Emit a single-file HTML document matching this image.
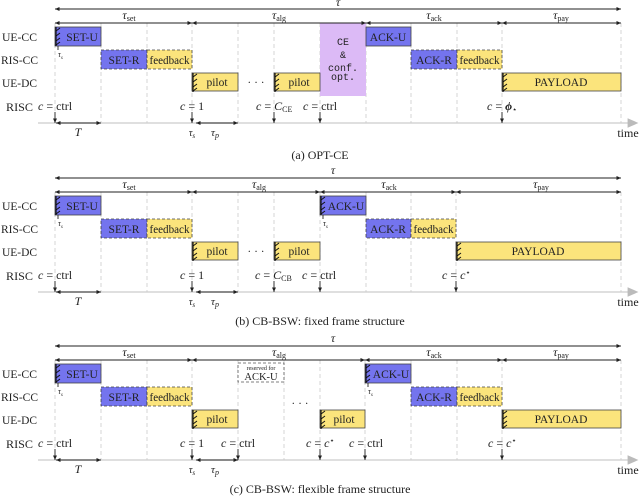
<!DOCTYPE html>
<html><head><meta charset="utf-8"><style>
html,body{margin:0;padding:0;background:#fff;}
svg{display:block;font-family:"Liberation Serif",serif;}
.g{stroke:#ccc;stroke-width:0.8;stroke-dasharray:4,3;}
.ar{stroke:#222;stroke-width:0.9;fill:none;}
.bl{fill:#7474ee;stroke:#444;stroke-width:0.8;}
.ye{fill:#fbe47c;stroke:#444;stroke-width:0.8;}
.d{stroke-dasharray:3,2;}
.t{font-size:12px;fill:#222;}
.s{font-size:11.5px;fill:#222;text-anchor:middle;}
.c{font-size:12px;fill:#222;text-anchor:middle;}
.m{font-family:"Liberation Mono",monospace;font-size:10px;fill:#222;text-anchor:middle;}
.h{stroke:#111;stroke-width:1;fill:none;}
</style></head><body>
<svg width="640" height="501" viewBox="0 0 640 501">
<defs>
<marker id="a" markerWidth="6" markerHeight="6" refX="5" refY="3" orient="auto-start-reverse"><path d="M0,0.8 L5,3 L0,5.2z" fill="#222"/></marker>
<marker id="ax" markerWidth="10" markerHeight="8" refX="2" refY="4" orient="auto"><path d="M0,0 L9,4 L0,8z" fill="#bbb"/></marker>
<g id="hatch"><path class="h" d="M0,4 L4,1 M0,9 L4,6 M0,14 L4,11 M0,18 L4,15"/><line x1="0" y1="0" x2="0" y2="19" stroke="#111" stroke-width="1.2"/></g>
<g id="common">
<line x1="55" y1="9" x2="621" y2="9" class="ar" marker-start="url(#a)" marker-end="url(#a)"/>
<line x1="38" y1="123" x2="630" y2="123" stroke="#ccc" stroke-width="1.2" marker-end="url(#ax)"/>
<text x="628" y="137" class="c">time</text>
<text x="2" y="41" class="t" textLength="35" lengthAdjust="spacingAndGlyphs">UE-CC</text>
<text x="1" y="64" class="t" textLength="37" lengthAdjust="spacingAndGlyphs">RIS-CC</text>
<text x="2" y="87" class="t" textLength="35" lengthAdjust="spacingAndGlyphs">UE-DC</text>
<text x="6" y="111" class="t" textLength="27" lengthAdjust="spacingAndGlyphs">RISC</text>
<line x1="56" y1="123" x2="101" y2="123" class="ar" marker-start="url(#a)" marker-end="url(#a)"/>
<text x="78" y="136" class="c" font-style="italic">T</text>
<line x1="55" y1="112" x2="55" y2="123" class="ar" marker-end="url(#a)"/>
<line x1="192" y1="112" x2="192" y2="123" class="ar" marker-end="url(#a)"/>
<text x="192" y="136" class="c" font-style="italic" style="font-size:10px">τ<tspan font-size="7" dy="2">s</tspan></text>
<line x1="196" y1="123" x2="238" y2="123" class="ar" marker-start="url(#a)" marker-end="url(#a)"/>
<text x="215" y="136" class="c" font-style="italic" style="font-size:11px">τ<tspan font-size="8" dy="2">p</tspan></text>
<rect x="55" y="27" width="46" height="19" class="bl"/><text x="82" y="41" class="s">SET-U</text>
<use href="#hatch" x="56" y="27"/>
<line x1="58" y1="46" x2="58" y2="50" class="ar"/><text x="58" y="57" class="t" font-style="italic" style="font-size:8px">τ<tspan font-size="5" dy="2">s</tspan></text>
<rect x="101" y="50" width="46" height="19" class="bl d"/><text x="124" y="64" class="s">SET-R</text>
<rect x="147" y="50" width="45" height="19" class="ye d"/><text x="169.5" y="64" class="s" textLength="40" lengthAdjust="spacingAndGlyphs">feedback</text>
<rect x="192" y="73" width="46" height="18" class="ye"/><text x="217" y="86" class="s">pilot</text>
<use href="#hatch" x="193" y="73"/>
<text x="38" y="110" class="t"><tspan font-style="italic">c</tspan> = ctrl</text>
<text x="180" y="110" class="t"><tspan font-style="italic">c</tspan> = 1</text>
</g>
</defs>

<!-- Panel A -->
<g>
<g class="g"><line x1="55" y1="23" x2="55" y2="123"/><line x1="101" y1="23" x2="101" y2="123"/><line x1="147" y1="23" x2="147" y2="123"/><line x1="192" y1="23" x2="192" y2="123"/><line x1="238" y1="23" x2="238" y2="123"/><line x1="274" y1="23" x2="274" y2="123"/><line x1="320" y1="23" x2="320" y2="123"/><line x1="366" y1="23" x2="366" y2="123"/><line x1="411" y1="23" x2="411" y2="123"/><line x1="457" y1="23" x2="457" y2="123"/><line x1="502" y1="23" x2="502" y2="123"/><line x1="621" y1="23" x2="621" y2="123"/></g>
<rect x="320" y="23" width="46" height="73" fill="#dcbaf6"/>
<use href="#common"/>
<text x="338" y="6" class="c" font-style="italic">τ</text>
<line x1="55" y1="23" x2="192" y2="23" class="ar" marker-start="url(#a)" marker-end="url(#a)"/>
<line x1="192" y1="23" x2="366" y2="23" class="ar" marker-start="url(#a)" marker-end="url(#a)"/>
<line x1="366" y1="23" x2="502" y2="23" class="ar" marker-start="url(#a)" marker-end="url(#a)"/>
<line x1="502" y1="23" x2="621" y2="23" class="ar" marker-start="url(#a)" marker-end="url(#a)"/>
<text x="129" y="19" class="c" font-style="italic">τ<tspan font-size="8" font-style="normal" dy="2">set</tspan></text>
<text x="279" y="19" class="c" font-style="italic">τ<tspan font-size="8" font-style="normal" dy="2">alg</tspan></text>
<text x="434" y="19" class="c" font-style="italic">τ<tspan font-size="8" font-style="normal" dy="2">ack</tspan></text>
<text x="561" y="19" class="c" font-style="italic">τ<tspan font-size="8" font-style="normal" dy="2">pay</tspan></text>
<text x="343" y="45" class="m">CE</text><text x="343" y="58" class="m">&amp;</text><text x="343" y="71" class="m">conf.</text><text x="343" y="80" class="m">opt.</text>
<text x="256" y="86" class="s">· · ·</text>
<rect x="274" y="73" width="46" height="18" class="ye"/><text x="299" y="86" class="s">pilot</text><use href="#hatch" x="275" y="73"/>
<rect x="366" y="27" width="45" height="19" class="bl"/><text x="388" y="41" class="s">ACK-U</text>
<rect x="411" y="50" width="46" height="19" class="bl d"/><text x="434" y="64" class="s">ACK-R</text>
<rect x="457" y="50" width="45" height="19" class="ye d"/><text x="479.5" y="64" class="s" textLength="40" lengthAdjust="spacingAndGlyphs">feedback</text>
<rect x="502" y="73" width="119" height="18" class="ye"/><text x="561" y="86" class="s">PAYLOAD</text><use href="#hatch" x="503" y="73"/>
<text x="256" y="110" class="t"><tspan font-style="italic">c</tspan> = <tspan font-style="italic">C</tspan><tspan font-size="8" dy="2">CE</tspan></text>
<text x="303" y="110" class="t"><tspan font-style="italic">c</tspan> = ctrl</text>
<text x="487" y="110" class="t"><tspan font-style="italic">c</tspan> = <tspan font-style="italic" font-weight="bold">ϕ</tspan><tspan font-size="8" dy="2">⋆</tspan></text>
<line x1="274" y1="112" x2="274" y2="123" class="ar" marker-end="url(#a)"/>
<line x1="320" y1="112" x2="320" y2="123" class="ar" marker-end="url(#a)"/>
<line x1="502" y1="112" x2="502" y2="123" class="ar" marker-end="url(#a)"/>
<text x="320" y="159" class="c">(a) OPT-CE</text>
</g>

<!-- Panel B -->
<g transform="translate(0,169)">
<g class="g"><line x1="55" y1="23" x2="55" y2="123"/><line x1="101" y1="23" x2="101" y2="123"/><line x1="147" y1="23" x2="147" y2="123"/><line x1="192" y1="23" x2="192" y2="123"/><line x1="238" y1="23" x2="238" y2="123"/><line x1="274" y1="23" x2="274" y2="123"/><line x1="320" y1="23" x2="320" y2="123"/><line x1="366" y1="23" x2="366" y2="123"/><line x1="411" y1="23" x2="411" y2="123"/><line x1="456" y1="23" x2="456" y2="123"/><line x1="621" y1="23" x2="621" y2="123"/></g>
<use href="#common"/>
<text x="333" y="5" class="c" font-style="italic">τ</text>
<line x1="55" y1="23" x2="192" y2="23" class="ar" marker-start="url(#a)" marker-end="url(#a)"/>
<line x1="192" y1="23" x2="320" y2="23" class="ar" marker-start="url(#a)" marker-end="url(#a)"/>
<line x1="320" y1="23" x2="456" y2="23" class="ar" marker-start="url(#a)" marker-end="url(#a)"/>
<line x1="456" y1="23" x2="621" y2="23" class="ar" marker-start="url(#a)" marker-end="url(#a)"/>
<text x="129" y="19" class="c" font-style="italic">τ<tspan font-size="8" font-style="normal" dy="2">set</tspan></text>
<text x="259" y="19" class="c" font-style="italic">τ<tspan font-size="8" font-style="normal" dy="2">alg</tspan></text>
<text x="389" y="19" class="c" font-style="italic">τ<tspan font-size="8" font-style="normal" dy="2">ack</tspan></text>
<text x="541" y="19" class="c" font-style="italic">τ<tspan font-size="8" font-style="normal" dy="2">pay</tspan></text>
<text x="256" y="86" class="s">· · ·</text>
<rect x="274" y="73" width="46" height="18" class="ye"/><text x="299" y="86" class="s">pilot</text><use href="#hatch" x="275" y="73"/>
<rect x="320" y="27" width="46" height="19" class="bl"/><text x="346" y="41" class="s">ACK-U</text><use href="#hatch" x="321" y="27"/>
<line x1="323" y1="46" x2="323" y2="50" class="ar"/><text x="323" y="57" class="t" font-style="italic" style="font-size:8px">τ<tspan font-size="5" dy="2">s</tspan></text>
<rect x="366" y="50" width="45" height="19" class="bl d"/><text x="388" y="64" class="s">ACK-R</text>
<rect x="411" y="50" width="45" height="19" class="ye d"/><text x="433.5" y="64" class="s" textLength="40" lengthAdjust="spacingAndGlyphs">feedback</text>
<rect x="456" y="73" width="165" height="18" class="ye"/><text x="538" y="86" class="s">PAYLOAD</text><use href="#hatch" x="457" y="73"/>
<text x="255" y="110" class="t"><tspan font-style="italic">c</tspan> = <tspan font-style="italic">C</tspan><tspan font-size="8" dy="2">CB</tspan></text>
<text x="302" y="110" class="t"><tspan font-style="italic">c</tspan> = ctrl</text>
<text x="442" y="110" class="t"><tspan font-style="italic">c</tspan> = <tspan font-style="italic">c</tspan><tspan font-size="8" dy="-4">⋆</tspan></text>
<line x1="274" y1="112" x2="274" y2="123" class="ar" marker-end="url(#a)"/>
<line x1="320" y1="112" x2="320" y2="123" class="ar" marker-end="url(#a)"/>
<line x1="456" y1="112" x2="456" y2="123" class="ar" marker-end="url(#a)"/>
<text x="320" y="156" class="c">(b) CB-BSW: fixed frame structure</text>
</g>

<!-- Panel C -->
<g transform="translate(0,337)">
<g class="g"><line x1="55" y1="23" x2="55" y2="123"/><line x1="101" y1="23" x2="101" y2="123"/><line x1="147" y1="23" x2="147" y2="123"/><line x1="192" y1="23" x2="192" y2="123"/><line x1="238" y1="23" x2="238" y2="123"/><line x1="284" y1="23" x2="284" y2="123"/><line x1="320" y1="23" x2="320" y2="123"/><line x1="365" y1="23" x2="365" y2="123"/><line x1="411" y1="23" x2="411" y2="123"/><line x1="457" y1="23" x2="457" y2="123"/><line x1="502" y1="23" x2="502" y2="123"/><line x1="621" y1="23" x2="621" y2="123"/></g>
<use href="#common"/>
<text x="333" y="5" class="c" font-style="italic">τ</text>
<line x1="55" y1="23" x2="192" y2="23" class="ar" marker-start="url(#a)" marker-end="url(#a)"/>
<line x1="192" y1="23" x2="365" y2="23" class="ar" marker-start="url(#a)" marker-end="url(#a)"/>
<line x1="365" y1="23" x2="502" y2="23" class="ar" marker-start="url(#a)" marker-end="url(#a)"/>
<line x1="502" y1="23" x2="621" y2="23" class="ar" marker-start="url(#a)" marker-end="url(#a)"/>
<text x="129" y="19" class="c" font-style="italic">τ<tspan font-size="8" font-style="normal" dy="2">set</tspan></text>
<text x="279" y="19" class="c" font-style="italic">τ<tspan font-size="8" font-style="normal" dy="2">alg</tspan></text>
<text x="434" y="19" class="c" font-style="italic">τ<tspan font-size="8" font-style="normal" dy="2">ack</tspan></text>
<text x="561" y="19" class="c" font-style="italic">τ<tspan font-size="8" font-style="normal" dy="2">pay</tspan></text>
<rect x="238" y="26" width="46" height="19" fill="#fff" stroke="#555" stroke-width="0.8" stroke-dasharray="3,2"/>
<text x="261" y="33" class="s" style="font-size:6px">reserved for</text><text x="261" y="43" class="s" style="font-size:10.5px">ACK-U</text>
<text x="300" y="70" class="s">· · ·</text>
<rect x="320" y="73" width="45" height="18" class="ye"/><text x="344" y="86" class="s">pilot</text><use href="#hatch" x="321" y="73"/>
<rect x="365" y="27" width="46" height="19" class="bl"/><text x="391" y="41" class="s">ACK-U</text><use href="#hatch" x="366" y="27"/>
<line x1="368" y1="46" x2="368" y2="50" class="ar"/><text x="368" y="57" class="t" font-style="italic" style="font-size:8px">τ<tspan font-size="5" dy="2">s</tspan></text>
<rect x="411" y="50" width="46" height="19" class="bl d"/><text x="434" y="64" class="s">ACK-R</text>
<rect x="457" y="50" width="45" height="19" class="ye d"/><text x="479.5" y="64" class="s" textLength="40" lengthAdjust="spacingAndGlyphs">feedback</text>
<rect x="502" y="73" width="119" height="18" class="ye"/><text x="561" y="86" class="s">PAYLOAD</text><use href="#hatch" x="503" y="73"/>
<text x="221" y="110" class="t"><tspan font-style="italic">c</tspan> = ctrl</text>
<text x="306" y="110" class="t"><tspan font-style="italic">c</tspan> = <tspan font-style="italic">c</tspan><tspan font-size="8" dy="-4">⋆</tspan></text>
<text x="349" y="110" class="t"><tspan font-style="italic">c</tspan> = ctrl</text>
<text x="488" y="110" class="t"><tspan font-style="italic">c</tspan> = <tspan font-style="italic">c</tspan><tspan font-size="8" dy="-4">⋆</tspan></text>
<line x1="238" y1="112" x2="238" y2="123" class="ar" marker-end="url(#a)"/>
<line x1="320" y1="112" x2="320" y2="123" class="ar" marker-end="url(#a)"/>
<line x1="365" y1="112" x2="365" y2="123" class="ar" marker-end="url(#a)"/>
<line x1="502" y1="112" x2="502" y2="123" class="ar" marker-end="url(#a)"/>
<text x="320" y="156" class="c">(c) CB-BSW: flexible frame structure</text>
</g>
</svg>
</body></html>
